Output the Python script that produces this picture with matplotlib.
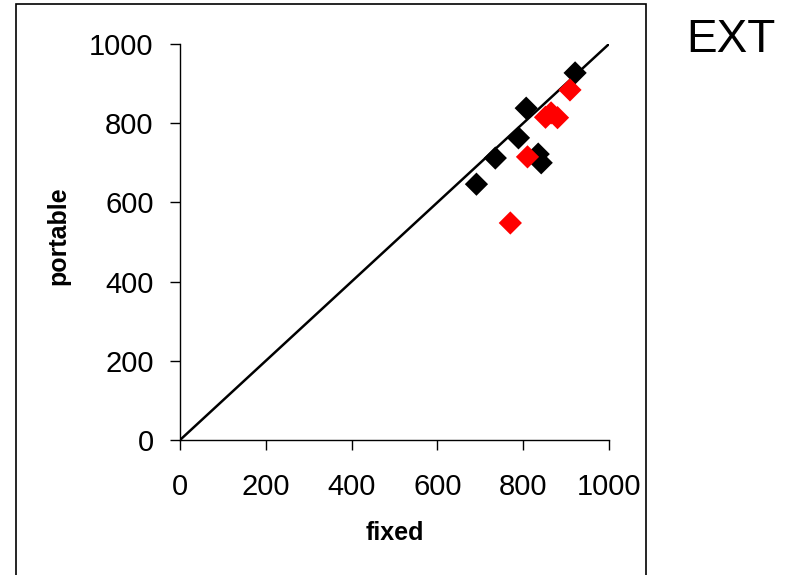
import matplotlib
matplotlib.use("Agg")
import matplotlib.pyplot as plt
from matplotlib.patches import Rectangle

plt.rcParams['font.family'] = ['Liberation Sans', 'DejaVu Sans']

# Data
black_fixed = [691, 735, 789, 807, 835, 842, 921]
black_portable = [646, 712, 763, 838, 722, 700, 927]
red_fixed = [770, 810, 852, 865, 880, 909]
red_portable = [548, 715, 815, 826, 814, 884]
line_x = [0, 1000]
line_y = [0, 1000]
ticks = [0, 200, 400, 600, 800, 1000]

W, H = 792, 575
fig = plt.figure(figsize=(W / 100, H / 100), dpi=100)

# outer chart frame
fig.patches.append(Rectangle((16 / W, -0.05), (646 - 16) / W, 1.05 - 4 / H,
                             transform=fig.transFigure, fill=False,
                             edgecolor='black', linewidth=1.2))

ax = fig.add_axes([180 / W, 1 - 440 / H, (609 - 180) / W, (440 - 44) / H])
ax.plot(line_x, line_y, color='black', linewidth=1.8, zorder=2)
ax.scatter(black_fixed, black_portable, marker='D', s=140, color='black',
           edgecolors='none', zorder=3)
ax.scatter(red_fixed, red_portable, marker='D', s=140, color='#ff0000',
           edgecolors='none', zorder=4)

ax.set_xlim(0, 1000)
ax.set_ylim(0, 1000)
ax.set_xticks(ticks)
ax.set_yticks(ticks)
ax.set_xticklabels([str(t) for t in ticks])
ax.set_yticklabels([str(t) for t in ticks])
ax.spines['top'].set_visible(False)
ax.spines['right'].set_visible(False)
for s in ('left', 'bottom'):
    ax.spines[s].set_linewidth(1.0)
ax.tick_params(axis='both', direction='out', length=7, width=1.0,
               labelsize=21)
ax.tick_params(axis='x', pad=17)
ax.tick_params(axis='y', pad=12)

ax.set_xlabel('fixed', fontsize=18, fontweight='bold', labelpad=14)
ax.set_ylabel('portable', fontsize=18, fontweight='bold', labelpad=16)
ax.yaxis.set_label_coords(-(180 - 70) / (609 - 180), 0.515)
ax.yaxis.label.set_va('bottom')

fig.text(686 / W, 1 - 52 / H, 'EXT', fontsize=33, ha='left', va='baseline')

fig.savefig('out.png', dpi=100)
